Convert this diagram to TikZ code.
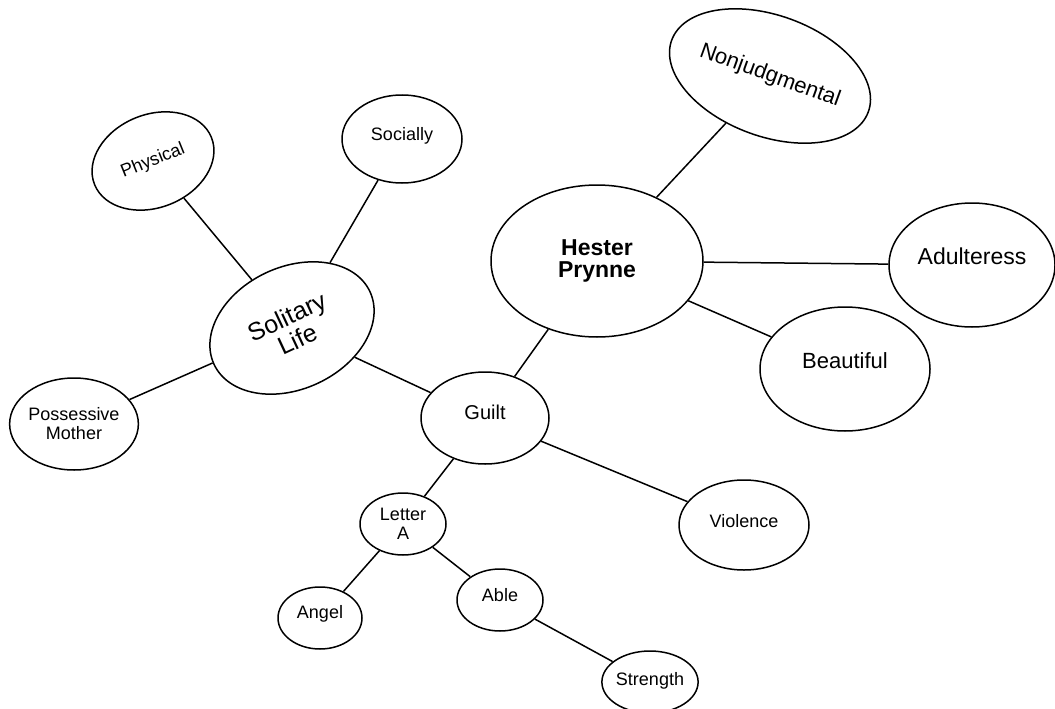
\documentclass[tikz,border=0pt]{standalone}
\usepackage{fontspec}
\setmainfont{Liberation Sans}
\usetikzlibrary{shapes.geometric}

\begin{document}
\begin{tikzpicture}[x=1pt,y=-1pt,line width=1.5pt]

  \tikzstyle{bubble}=[ellipse,draw,inner sep=0pt,align=center]
  \tikzstyle{small}=[bubble,font=\fontsize{18}{19}\selectfont]
  \tikzstyle{large}=[bubble,font=\fontsize{23}{24}\selectfont]
  \tikzstyle{link}=[draw,line width=1.5pt]

  \useasboundingbox (0,0) rectangle (1055,709);

  % left cluster
  \node [small,minimum width=126pt,minimum height=93pt,rotate=22]  (physical)  at (153,161) {Physical};
  \node [small,minimum width=120pt,minimum height=88pt,text depth=10pt] (socially) at (402,139) {Socially};
  \node [large,minimum width=172pt,minimum height=122pt,rotate=25,font=\fontsize{25}{25}\selectfont] (solitary) at (292,328) {Solitary\\Life};
  \node [small,minimum width=128pt,minimum height=92pt]            (mother)    at (74,424)  {Possessive\\Mother};

  % right cluster
  \node [large,minimum width=212pt,minimum height=152pt,font=\bfseries\fontsize{23}{22}\selectfont] (hester) at (597,261) {Hester\\Prynne};
  \node [large,minimum width=173pt,minimum height=121pt,rotate=-20,font=\fontsize{22}{22}\selectfont] (nonjudg) at (770,76) {Nonjudgmental};
  \node [large,minimum width=166pt,minimum height=124pt,text depth=18pt] (adulteress) at (972,265) {Adulteress};
  \node [large,minimum width=170pt,minimum height=124pt,text depth=16pt,font=\fontsize{22}{22}\selectfont] (beautiful) at (845,369) {Beautiful};

  % lower cluster
  \node [small,minimum width=128pt,minimum height=92pt,text depth=12pt,font=\fontsize{20}{20}\selectfont] (guilt) at (485,418) {Guilt};
  \node [small,minimum width=130pt,minimum height=90pt,text depth=8pt] (violence) at (744,525) {Violence};
  \node [small,minimum width=86pt,minimum height=62pt]             (letter)    at (403,524) {Letter\\A};
  \node [small,minimum width=84pt,minimum height=62pt,text depth=12pt] (angel)    at (320,618) {Angel};
  \node [small,minimum width=86pt,minimum height=62pt,text depth=10pt] (able)     at (500,600) {Able};
  \node [small,minimum width=86pt,minimum height=62pt,text depth=6pt]  (strength) at (650,682) {Strength};

  \draw [link] (physical) -- (solitary);
  \draw [link] (socially) -- (solitary);
  \draw [link] (mother)   -- (solitary);
  \draw [link] (solitary) -- (guilt);
  \draw [link] (hester)   -- (guilt);
  \draw [link] (hester)   -- (nonjudg);
  \draw [link] (hester)   -- (adulteress);
  \draw [link] (hester)   -- (beautiful);
  \draw [link] (guilt)    -- (violence);
  \draw [link] (guilt)    -- (letter);
  \draw [link] (letter)   -- (angel);
  \draw [link] (letter)   -- (able);
  \draw [link] (able)     -- (strength);

\end{tikzpicture}
\end{document}
